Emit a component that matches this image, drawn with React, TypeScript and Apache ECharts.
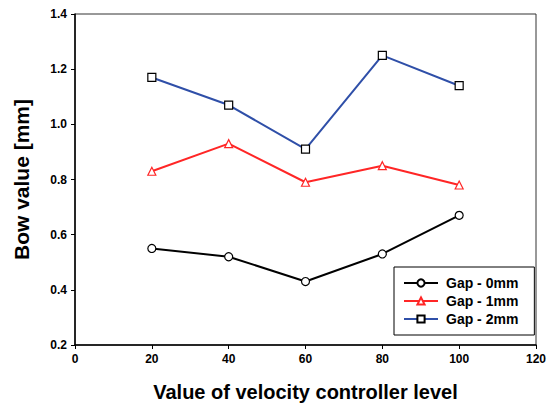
import React, { useEffect, useRef } from "react";
import * as echarts from "echarts";

const xValues = [20, 40, 60, 80, 100];
const gap0 = [0.55, 0.52, 0.43, 0.53, 0.67];
const gap1 = [0.83, 0.93, 0.79, 0.85, 0.78];
const gap2 = [1.17, 1.07, 0.91, 1.25, 1.14];
const seriesNames = ["Gap - 0mm", "Gap - 1mm", "Gap - 2mm"];

const pairs = (ys: number[]) => xValues.map((x, i) => [x, ys[i]]);

export default function App() {
  const ref = useRef<HTMLDivElement>(null);
  useEffect(() => {
    if (!ref.current) return;
    const chart = echarts.init(ref.current, undefined, { renderer: "svg" });
    const font = "Arial, 'Liberation Sans', sans-serif";
    chart.setOption({
      animation: false,
      textStyle: { fontFamily: font },
      grid: {
        left: 75,
        top: 14,
        width: 461,
        height: 331,
        show: true,
        borderColor: "#333",
        borderWidth: 1,
        backgroundColor: "transparent",
      },
      xAxis: {
        type: "value",
        min: 0,
        max: 120,
        interval: 20,
        name: "Value of velocity controller level",
        nameLocation: "middle",
        nameGap: 37,
        nameTextStyle: { fontSize: 20, fontWeight: "bold", color: "#000", fontFamily: font },
        axisLine: { show: true, lineStyle: { color: "#000", width: 1.5 } },
        axisTick: { show: true, inside: false, length: 4, lineStyle: { color: "#000" } },
        axisLabel: { fontSize: 12, fontWeight: "bold", color: "#000", margin: 8, fontFamily: font },
        splitLine: { show: false },
      },
      yAxis: {
        type: "value",
        min: 0.2,
        max: 1.4,
        interval: 0.2,
        name: "Bow value [mm]",
        nameLocation: "middle",
        nameGap: 43,
        nameTextStyle: { fontSize: 21, fontWeight: "bold", color: "#000", fontFamily: font },
        axisLine: { show: true, lineStyle: { color: "#000", width: 1.5 } },
        axisTick: { show: true, inside: false, length: 4, lineStyle: { color: "#000" } },
        axisLabel: {
          fontSize: 12,
          fontWeight: "bold",
          color: "#000",
          margin: 8,
          fontFamily: font,
          formatter: (v: number) => v.toFixed(1),
        },
        splitLine: { show: false },
      },
      legend: {
        left: 394,
        top: 267,
        orient: "vertical",
        backgroundColor: "#fff",
        borderColor: "#000",
        borderWidth: 1,
        padding: [9, 16, 9, 9],
        itemWidth: 34,
        itemHeight: 9,
        itemGap: 4,
        textStyle: {
          fontSize: 14,
          fontWeight: "bold",
          color: "#000",
          fontFamily: font,
          padding: [0, 0, 0, 3],
        },
        data: seriesNames,
      },
      series: [
        {
          name: seriesNames[0],
          type: "line",
          data: pairs(gap0),
          symbol: "circle",
          symbolSize: 8,
          lineStyle: { color: "#000", width: 2 },
          itemStyle: { color: "#fff", borderColor: "#000", borderWidth: 1.2 },
        },
        {
          name: seriesNames[1],
          type: "line",
          data: pairs(gap1),
          symbol: "triangle",
          symbolSize: 8,
          lineStyle: { color: "#ff2626", width: 2 },
          itemStyle: { color: "#fff", borderColor: "#ff2626", borderWidth: 1.2 },
        },
        {
          name: seriesNames[2],
          type: "line",
          data: pairs(gap2),
          symbol: "rect",
          symbolSize: 8,
          lineStyle: { color: "#2f4fa8", width: 2 },
          itemStyle: { color: "#fff", borderColor: "#000", borderWidth: 1.2 },
        },
      ],
    });
    return () => chart.dispose();
  }, []);
  return <div ref={ref} style={{ width: 552, height: 409, position: "absolute", left: 0, top: 0 }} />;
}
